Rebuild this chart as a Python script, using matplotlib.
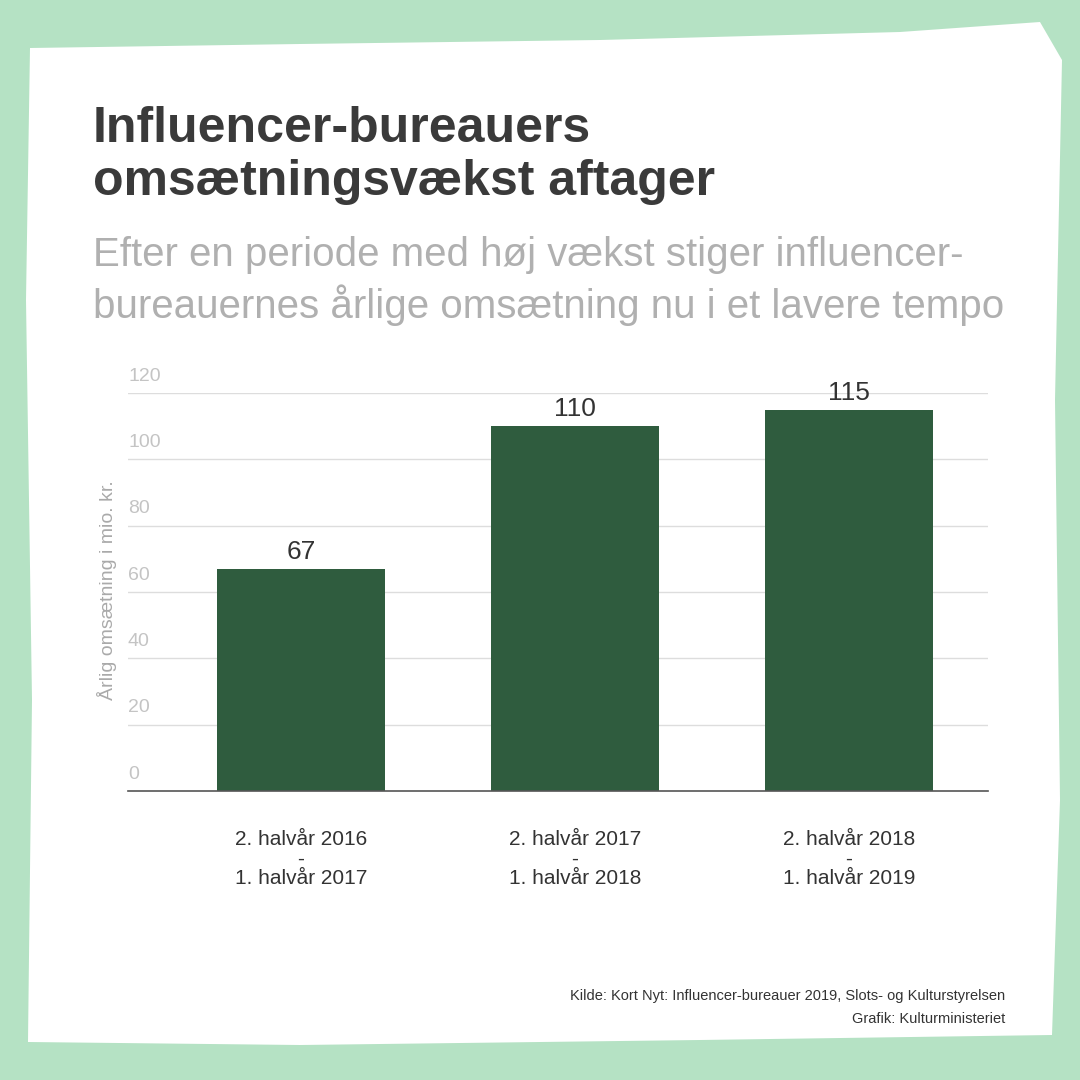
import matplotlib.pyplot as plt
from matplotlib.patches import Polygon

categories = ['2. halvår 2016\n-\n1. halvår 2017',
              '2. halvår 2017\n-\n1. halvår 2018',
              '2. halvår 2018\n-\n1. halvår 2019']
values = [67, 110, 115]
yticks = [0, 20, 40, 60, 80, 100, 120]

plt.rcParams['font.family'] = ['Liberation Sans', 'DejaVu Sans']

fig = plt.figure(figsize=(10.8, 10.8), dpi=100)
fig.patch.set_facecolor('#b5e2c4')

# rough white paper shape (pixel coords, y down)
pts = [(30, 48), (300, 44), (600, 40), (900, 32), (1040, 22), (1062, 60),
       (1055, 400), (1060, 800), (1052, 1035), (700, 1040), (300, 1045),
       (28, 1042), (32, 700), (26, 300)]
paper = Polygon([(x / 1080, 1 - y / 1080) for x, y in pts], closed=True,
                facecolor='white', edgecolor='none', transform=fig.transFigure,
                zorder=-10)
fig.add_artist(paper)

fig.text(93 / 1080, 1 - 195 / 1080, 'Influencer-bureauers\nomsætningsvækst aftager',
         fontsize=36, fontweight='bold', color='#3a3a3a', va='baseline',
         linespacing=1.2)
fig.text(93 / 1080, 1 - 318 / 1080,
         'Efter en periode med høj vækst stiger influencer-\nbureauernes årlige omsætning nu i et lavere tempo',
         fontsize=29, color='#b0b0b0', va='baseline', linespacing=1.3)

ax = fig.add_axes([128 / 1080, 1 - 791 / 1080, 860 / 1080, 398 / 1080])
ax.set_facecolor('none')
x = list(range(len(values)))
bars = ax.bar(x, values, width=0.613, color='#2f5c3e', zorder=2)
ax.set_xlim(-0.631, 2.507)
ax.set_ylim(0, 120)

for t in yticks:
    if t > 0:
        ax.axhline(t, color='#dddddd', lw=1, zorder=0)
    ax.text(0, t + 2.5, str(t), transform=ax.get_yaxis_transform(),
            color='#c4c4c4', fontsize=14, va='bottom', ha='left')

for b, v in zip(bars, values):
    ax.text(b.get_x() + b.get_width() / 2, v + 1.5, str(v), ha='center',
            va='bottom', fontsize=19, color='#333333')

ax.set_yticks([])
ax.set_xticks(x)
ax.set_xticklabels(categories, fontsize=15, color='#333333', linespacing=1.05)
ax.tick_params(axis='x', length=0, pad=28)
for s in ['top', 'right', 'left']:
    ax.spines[s].set_visible(False)
ax.spines['bottom'].set_color('#555555')
ax.spines['bottom'].set_linewidth(1.2)

fig.text(107 / 1080, 1 - 590 / 1080, 'Årlig omsætning i mio. kr.', rotation=90,
         ha='center', va='center', fontsize=14, color='#aaaaaa')

fig.text(1005 / 1080, 1 - 1000 / 1080,
         'Kilde: Kort Nyt: Influencer-bureauer 2019, Slots- og Kulturstyrelsen',
         ha='right', fontsize=10.5, color='#333333')
fig.text(1005 / 1080, 1 - 1023 / 1080, 'Grafik: Kulturministeriet',
         ha='right', fontsize=10.5, color='#333333')

fig.savefig('out.png', dpi=100)
